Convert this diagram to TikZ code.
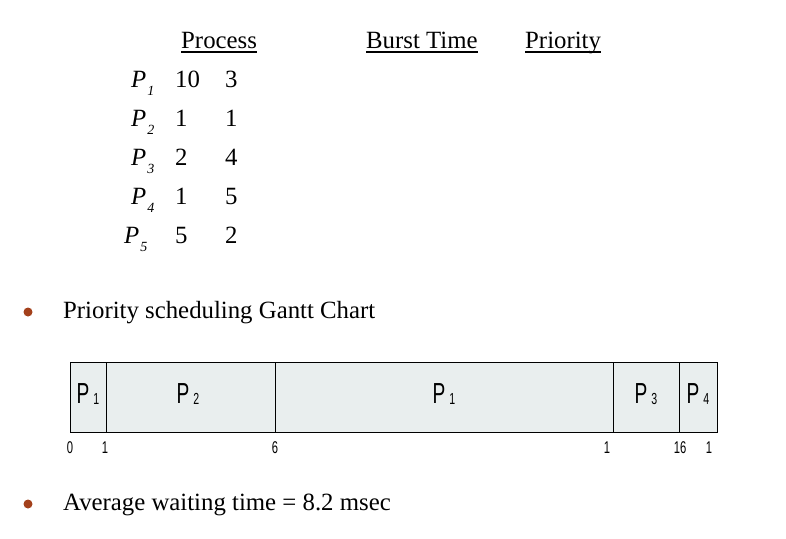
\documentclass[tikz,border=0pt]{standalone}
\usepackage{fontspec}
\setmainfont{Liberation Serif}
\newfontfamily\ganttfont[FakeStretch=0.66]{Liberation Sans}
\definecolor{bulletred}{HTML}{A3401B}
\definecolor{barfill}{HTML}{E9EEEE}

\newcommand{\proc}[1]{\textit{P}\kern1pt\raisebox{-8pt}{\fontsize{14}{14}\selectfont\textit{#1}}}
\newcommand{\gproc}[1]{P\kern4pt\raisebox{-1.5pt}{\fontsize{16}{16}\selectfont #1}}

\begin{document}
\begin{tikzpicture}[x=1pt,y=-1pt,
  txt/.style={inner sep=0pt, anchor=base west, font=\fontsize{24.8}{28}\selectfont},
  rule/.style={line width=1.2pt},
  cell/.style={draw, line width=1.1pt, fill=barfill, rectangle, inner sep=0pt,
    minimum height=70pt, anchor=north west},
  glabel/.style={inner sep=0pt, anchor=base, font=\ganttfont\fontsize{29}{30}\selectfont},
  tick/.style={inner sep=0pt, anchor=base, font=\ganttfont\fontsize{17}{18}\selectfont},
  bullet/.style={circle, fill=bulletred, inner sep=0pt, minimum size=9pt}]
\useasboundingbox (0,0) rectangle (786,538);

% column headers
\node[txt] (hproc) at (181,48) {Process};
\node[txt] (hburst) at (366,48) {Burst Time};
\node[txt] (hprio) at (525,48) {Priority};
\foreach \h in {hproc,hburst,hprio}
  \draw[rule] ([yshift=-4pt]\h.base west) -- ([yshift=-4pt]\h.base east);

% table rows
\node[txt] (p1) at (131,87) {\proc{1}};
\node[txt] (b1) at (175,87) {10};
\node[txt] (r1) at (225,87) {3};
\node[txt] (p2) at (131,126) {\proc{2}};
\node[txt] (b2) at (175,126) {1};
\node[txt] (r2) at (225,126) {1};
\node[txt] (p3) at (131,165) {\proc{3}};
\node[txt] (b3) at (175,165) {2};
\node[txt] (r3) at (225,165) {4};
\node[txt] (p4) at (131,204) {\proc{4}};
\node[txt] (b4) at (175,204) {1};
\node[txt] (r4) at (225,204) {5};
\node[txt] (p5) at (124,243) {\proc{5}};
\node[txt] (b5) at (175,243) {5};
\node[txt] (r5) at (225,243) {2};

% bullet points
\node[bullet] (dot1) at (28,312) {};
\node[txt] (item1) at (63,318) {Priority scheduling Gantt Chart};
\node[bullet] (dot2) at (28,504) {};
\node[txt] (item2) at (63,510) {Average waiting time = 8.2 msec};

% Gantt chart cells
\node[cell, minimum width=36pt] (c1) at (70,362) {};
\node[cell, minimum width=169pt] (c2) at (106,362) {};
\node[cell, minimum width=338pt] (c3) at (275,362) {};
\node[cell, minimum width=66pt] (c4) at (613,362) {};
\node[cell, minimum width=38pt] (c5) at (679,362) {};

\node[glabel] (l1) at (88,403) {\gproc{1}};
\node[glabel] (l2) at (188,403) {\gproc{2}};
\node[glabel] (l3) at (444,403) {\gproc{1}};
\node[glabel] (l4) at (646,403) {\gproc{3}};
\node[glabel] (l5) at (698,403) {\gproc{4}};

% time marks
\node[tick] (t0) at (70,453) {0};
\node[tick] (t1) at (105,453) {1};
\node[tick] (t2) at (275,453) {6};
\node[tick] (t3) at (607,453) {1};
\node[tick] (t4) at (680,453) {16};
\node[tick] (t5) at (709,453) {1};
\end{tikzpicture}
\end{document}
